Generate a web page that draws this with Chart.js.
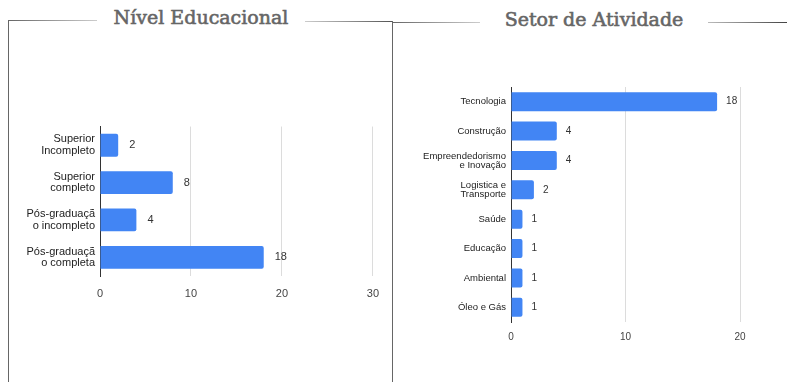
<!DOCTYPE html>
<html lang="pt-BR">
<head>
<meta charset="utf-8">
<script src="https://cdn.jsdelivr.net/npm/chart.js@4.4.1/dist/chart.umd.min.js"></script>
<style>
  html, body { margin: 0; padding: 0; background: #fff; }
  #pagina { position: relative; width: 787px; height: 382px; overflow: hidden; }
  .titulo { position: absolute; top: 6px; font-family: "DejaVu Serif", serif; font-size: 19px; color: #666; -webkit-text-stroke: 0.6px #666; text-align: center; white-space: nowrap; }
  .traco { position: absolute; height: 1px; }
  .vertical { position: absolute; width: 1px; bottom: 0; background: #666; }
  canvas { position: absolute; }
</style>
</head>
<body>
<div id="pagina">
  <!-- moldura do painel esquerdo -->
  <div class="vertical" style="left:8px; top:20px;"></div>
  <div class="traco" style="left:8px; top:20px; width:89px; background:linear-gradient(to right,#666,#ccc);"></div>
  <div class="titulo" style="left:97px; width:208px;">Nível Educacional</div>
  <div class="traco" style="left:305px; top:21px; width:87px; background:linear-gradient(to right,#ccc,#555);"></div>

  <!-- divisória entre os painéis e moldura do direito -->
  <div class="vertical" style="left:392px; top:21px;"></div>
  <div class="traco" style="left:392px; top:22px; width:88px; background:linear-gradient(to right,#666,#ccc);"></div>
  <div class="titulo" style="left:480px; width:228px; top:8px;">Setor de Atividade</div>
  <div class="traco" style="left:708px; top:22px; width:79px; background:linear-gradient(to right,#bbb,#444);"></div>

  <canvas id="graficoNivel" width="380" height="200" style="left:10px; top:110px;"></canvas>
  <canvas id="graficoSetor" width="380" height="290" style="left:400px; top:70px;"></canvas>
</div>

<script>
// Nível educacional
const niveis = [
  ['Superior', 'Incompleto'],
  ['Superior', 'completo'],
  ['Pós-graduaçã', 'o incompleto'],
  ['Pós-graduaçã', 'o completa']
];
const niveisQtd = [2, 8, 4, 18];
const niveisMax = 30;

// Setor de atividade
const setores = [
  'Tecnologia',
  'Construção',
  ['Empreendedorismo', 'e Inovação'],
  ['Logistica e', 'Transporte'],
  'Saúde',
  'Educação',
  'Ambiental',
  'Óleo e Gás'
];
const setoresQtd = [18, 4, 4, 2, 1, 1, 1, 1];
const setoresMax = 20;

const passoEixo = 10;

// escreve o valor logo depois do fim de cada barra
const rotuloValor = {
  id: 'rotuloValor',
  afterDatasetsDraw(chart, args, opts) {
    const { ctx } = chart;
    const valores = chart.data.datasets[0].data;
    ctx.save();
    ctx.font = opts.font;
    ctx.fillStyle = opts.color;
    ctx.textAlign = 'left';
    ctx.textBaseline = 'middle';
    chart.getDatasetMeta(0).data.forEach((barra, i) => {
      ctx.fillText(valores[i], barra.x + opts.distancia, barra.y);
    });
    ctx.restore();
  }
};

const graficoBarras = (ctx, rotulos, valores, cfg) => new Chart(ctx, {
  type: 'bar',
  data: {
    labels: rotulos,
    datasets: [
      {
        data: valores,
        backgroundColor: '#4285f4',
        borderWidth: 0,
        borderRadius: 2,
        barPercentage: cfg.espessura,
        categoryPercentage: 1
      }
    ]
  },
  plugins: [rotuloValor],
  options: {
    indexAxis: 'y',
    responsive: false,
    animation: false,
    layout: { padding: cfg.margem },
    plugins: {
      legend: { display: false },
      tooltip: { enabled: false },
      rotuloValor: {
        font: cfg.fonteValor + 'px "Liberation Sans", Arial, sans-serif',
        color: '#333',
        distancia: cfg.distanciaValor
      }
    },
    scales: {
      x: {
        min: 0,
        max: cfg.max,
        afterFit: (scale) => { scale.height = 24 },
        border: { display: false },
        grid: {
          drawTicks: false,
          color: (c) => (c.tick && c.tick.value === 0 ? '#333' : '#dcdcdc')
        },
        ticks: {
          stepSize: passoEixo,
          padding: cfg.recuoTicks,
          color: '#444',
          font: { family: '"Liberation Sans", Arial, sans-serif', size: cfg.fonteTicks }
        }
      },
      y: {
        afterFit: (scale) => { scale.width = cfg.larguraEixo },
        border: { display: true, color: '#333' },
        grid: { display: false, drawTicks: false },
        ticks: {
          padding: 5,
          color: '#222',
          font: { family: '"Liberation Sans", Arial, sans-serif', size: cfg.fonteRotulos, lineHeight: cfg.entrelinha }
        }
      }
    }
  }
});

graficoBarras(document.getElementById('graficoNivel'), niveis, niveisQtd, {
  max: niveisMax,
  espessura: 0.61,
  margem: { top: 14, right: 16, bottom: 10, left: 0 },
  larguraEixo: 90,
  fonteRotulos: 11,
  entrelinha: 1.05,
  fonteTicks: 11,
  recuoTicks: 11,
  fonteValor: 11,
  distanciaValor: 11
});

graficoBarras(document.getElementById('graficoSetor'), setores, setoresQtd, {
  max: setoresMax,
  espessura: 0.65,
  margem: { top: 17, right: 40, bottom: 14, left: 0 },
  larguraEixo: 111,
  fonteRotulos: 9.5,
  entrelinha: 0.95,
  fonteTicks: 10,
  recuoTicks: 9,
  fonteValor: 10,
  distanciaValor: 9
});
</script>
</body>
</html>
